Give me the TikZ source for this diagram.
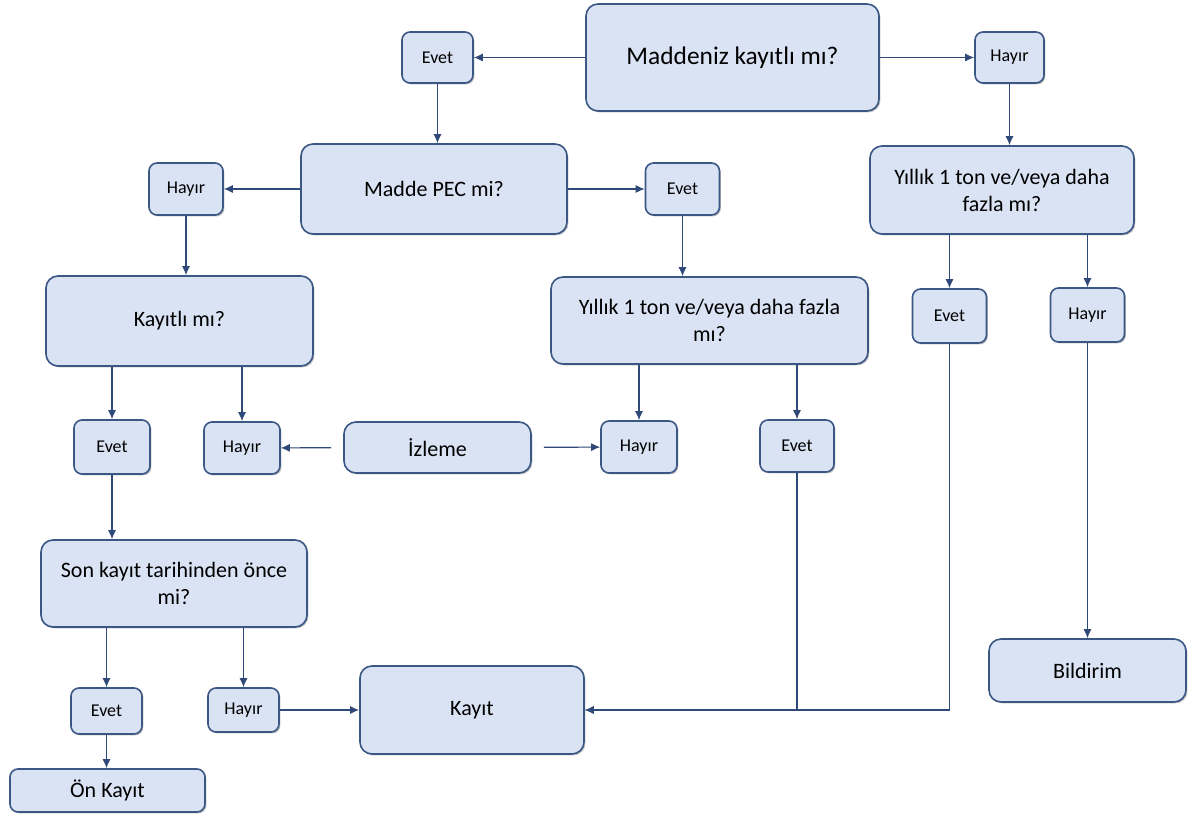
\documentclass[tikz,border=0pt]{standalone}
\usepackage{fontspec}
\setmainfont{Carlito}
\usetikzlibrary{arrows.meta,shadows}

\definecolor{boxfill}{HTML}{DAE3F3}
\definecolor{boxline}{HTML}{3B5784}
\definecolor{arrowline}{HTML}{2F4A78}

\begin{document}
\begin{tikzpicture}
  [x=0.5pt, y=-0.5pt,
    >={Latex[length=4.5pt,width=4pt]},
    align=center,
    question/.style={%
      rectangle, rounded corners=6pt, draw=boxline, line width=0.8pt,
      fill=boxfill, font=\fontsize{11}{13.5}\selectfont, inner sep=2pt,
      drop shadow={shadow xshift=0.7pt, shadow yshift=-0.7pt,
        opacity=0.25, fill=black}
    },
    answer/.style={%
      question, rounded corners=4pt, font=\fontsize{9}{11}\selectfont,
      minimum width=37pt, minimum height=26pt
    },
    link/.style={->, draw=arrowline, line width=0.6pt},
  ]

  \useasboundingbox (0,0) rectangle (1193,817);

  % questions
  \node[question, minimum width=146.5pt, minimum height=53.5pt,
        font=\fontsize{12.7}{15}\selectfont] (kayitli) at (732.5,57.5) {Maddeniz kayıtlı mı?};
  \node[question, minimum width=133pt, minimum height=45pt] (pec) at (434,189) {Madde PEC mi?};
  \node[question, minimum width=132pt, minimum height=44pt] (tonsag) at (1002,190) {Yıllık 1 ton ve/veya daha\\fazla mı?};
  \node[question, minimum width=133.5pt, minimum height=45pt] (kayit2) at (179.5,321) {Kayıtlı mı?};
  \node[question, minimum width=158.5pt, minimum height=43.5pt] (tonorta) at (709.5,320.5) {Yıllık 1 ton ve/veya daha fazla\\mı?};
  \node[question, minimum width=133pt, minimum height=43.5pt] (sontarih) at (174,583.5) {Son kayıt tarihinden önce\\mi?};

  % answers
  \node[answer, minimum width=35.5pt, minimum height=25.5pt] (evet1) at (437.5,57.5) {Evet};
  \node[answer, minimum width=34.5pt, minimum height=25.5pt] (hayir1) at (1009.5,57.5) {Hayır};
  \node[answer] (hayir2) at (186,189) {Hayır};
  \node[answer] (evet2) at (682.5,189) {Evet};
  \node[answer, minimum height=27pt] (evet3) at (949.5,316) {Evet};
  \node[answer, minimum height=27pt] (hayir3) at (1087.5,315) {Hayır};
  \node[answer, minimum width=38pt, minimum height=27pt] (evet4) at (112,447) {Evet};
  \node[answer, minimum width=38pt] (hayir4) at (242,448) {Hayır};
  \node[answer, minimum width=38pt] (hayir5) at (639,447) {Hayır};
  \node[answer] (evet5) at (797,446) {Evet};
  \node[answer, minimum width=35.5pt, minimum height=23pt] (evet6) at (106.5,711) {Evet};
  \node[answer, minimum width=35.5pt, minimum height=22pt] (hayir6) at (243.5,710) {Hayır};

  % results
  \node[question, minimum width=93.5pt, minimum height=25.5pt] (izleme) at (437.5,447.5) {İzleme};
  \node[question, minimum width=112pt, minimum height=44pt] (kayit) at (472,710) {Kayıt};
  \node[question, minimum width=98.5pt, minimum height=31.5pt] (bildirim) at (1087.5,670.5) {Bildirim};
  \node[question, minimum width=97.5pt, minimum height=21.5pt, rounded corners=4pt] (onkayit) at (107.5,790.5) {Ön Kayıt};

  \draw[link] (kayitli) -- (evet1);
  \draw[link] (kayitli) -- (hayir1);
  \draw[link] (pec) -- (hayir2);
  \draw[link] (pec) -- (evet2);

  \draw[link] (evet1.south) -- (evet1.south |- pec.north);
  \draw[link] (hayir1.south) -- (hayir1.south |- tonsag.north);
  \draw[link] (hayir2.south) -- (hayir2.south |- kayit2.north);
  \draw[link] (evet2.south) -- (evet2.south |- tonorta.north);

  \draw[link] (tonsag.south -| evet3) -- (evet3.north);
  \draw[link] (tonsag.south -| hayir3) -- (hayir3.north);
  \draw[link] (kayit2.south -| evet4) -- (evet4.north);
  \draw[link] (kayit2.south -| hayir4) -- (hayir4.north);
  \draw[link] (tonorta.south -| hayir5) -- (hayir5.north);
  \draw[link] (tonorta.south -| evet5) -- (evet5.north);

  \draw[link] (evet4.south) -- (evet4.south |- sontarih.north);
  \draw[link] (sontarih.south -| evet6) -- (evet6.north);
  \draw[link] (sontarih.south -| hayir6) -- (hayir6.north);
  \draw[link] (evet6.south) -- (evet6.south |- onkayit.north);
  \draw[link] (hayir6) -- (kayit);
  \draw[link] (hayir3.south) -- (hayir3.south |- bildirim.north);

  \draw[link, shorten <=6pt] (izleme) -- (hayir4);
  \draw[link, shorten <=6pt] (izleme) -- (hayir5);

  \draw[link] (evet5.south) |- (kayit.east);
  \draw[link] (evet3.south) |- (kayit.east);

\end{tikzpicture}
\end{document}
